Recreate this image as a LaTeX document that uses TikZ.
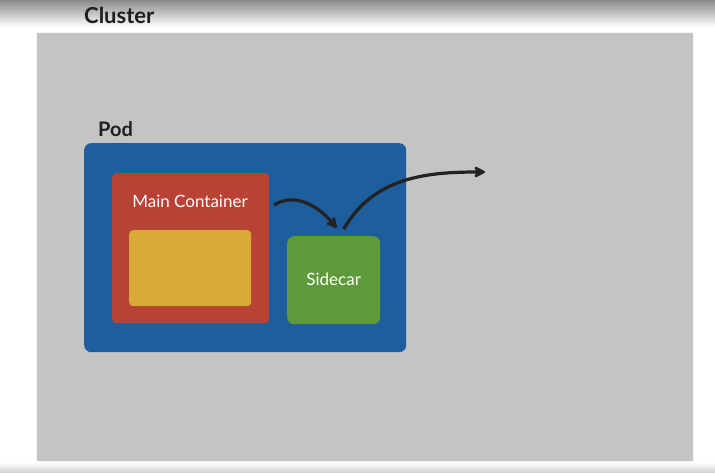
\documentclass[tikz,border=0pt]{standalone}
\usepackage{fontspec}
\setmainfont{Lato}
\usetikzlibrary{arrows.meta,positioning}
\definecolor{bandcolor}{RGB}{138,138,138}
\definecolor{clustercolor}{RGB}{196,196,196}
\definecolor{podcolor}{RGB}{30,94,156}
\definecolor{maincolor}{RGB}{184,66,51}
\definecolor{appcolor}{RGB}{216,170,56}
\definecolor{sidecolor}{RGB}{94,154,58}
\definecolor{arrowcolor}{RGB}{34,34,34}

\begin{document}
\begin{tikzpicture}[x=1pt, y=-1pt,
  box/.style={rounded corners=7pt, inner sep=0pt, anchor=north west},
  title/.style={font=\fontsize{20}{24}\selectfont\bfseries, anchor=base west, text=black!88, inner sep=0pt},
  label/.style={font=\fontsize{17}{20}\selectfont, text=white, anchor=base},
  flow/.style={-{Stealth[round, length=14pt, width=14pt]}, line width=3.2pt, draw=arrowcolor}]

  \useasboundingbox (0,0) rectangle (715,473);
  \fill[white] (0,0) rectangle (715,473);
  \shade[top color=bandcolor, bottom color=white] (0,0) rectangle (715,27);
  \shade[top color=white, bottom color=clustercolor!80] (0,462) rectangle (715,473);

  \node[box, rounded corners=0pt, fill=clustercolor, draw=white!85!clustercolor, minimum width=657pt, minimum height=429pt] (cluster) at (36,32) {};
  \node[title, font=\fontsize{22}{26}\selectfont\bfseries] (clusterlabel) at (84,24) {Cluster};

  \node[box, fill=podcolor, minimum width=322pt, minimum height=209pt] (pod) at (84,143) {};
  \node[title] (podlabel) at (98,137) {Pod};

  \node[box, rounded corners=4pt, fill=maincolor, minimum width=157pt, minimum height=150pt] (main) at (112,173) {};
  \node[label] (mainlabel) at (190,208) {Main Container};
  \node[box, rounded corners=4pt, fill=appcolor, minimum width=122pt, minimum height=76pt] (app) at (129,230) {};

  \node[box, fill=sidecolor, minimum width=93pt, minimum height=88pt] (side) at (287,236) {};
  \node[label] (sidelabel) at (side.center |- 0,285) {Sidecar};

  \coordinate (into) at (274,205);
  \coordinate (exit) at (485,172);

  \draw[flow] (into) to[out=32, in=130] ([xshift=3pt, yshift=8pt]side.north);
  \draw[flow] ([xshift=10pt, yshift=7pt]side.north) to[out=60, in=180] (exit);
\end{tikzpicture}
\end{document}
